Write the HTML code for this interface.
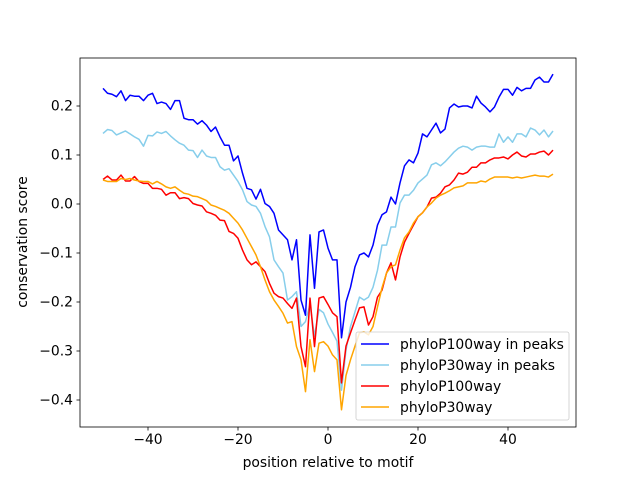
<!DOCTYPE html>
<html><head><meta charset="utf-8"><style>
body{margin:0;background:#fff}
svg{display:block;font-family:"DejaVu Sans","Liberation Sans",sans-serif}
</style></head><body>
<svg id="chart" width="640" height="480" viewBox="0 0 640 480">
<rect width="640" height="480" fill="#fff"/>
<g id="plot"></g>
</svg>
<script>
const positions = [];
for (let i = -50; i <= 50; i++) positions.push(i);
const p100peaks = [.236,.226,.224,.219,.231,.211,.222,.220,.220,.211,.222,.226,.205,.208,.205,.193,.211,.211,.175,.172,.172,.163,.170,.161,.148,.157,.137,.120,.120,.088,.098,.063,.032,.029,.010,.030,.001,-.005,-.019,-.053,-.063,-.073,-.114,-.073,-.196,-.227,-.063,-.172,-.057,-.053,-.09,-.114,-.114,-.273,-.2,-.17,-.128,-.104,-.1,-.108,-.084,-.043,-.022,-.016,.014,0,.043,.078,.09,.084,.104,.143,.137,.151,.165,.145,.153,.196,.204,.198,.2,.2,.196,.22,.206,.198,.188,.198,.218,.234,.234,.222,.238,.231,.236,.236,.253,.259,.249,.249,.265];
const p30peaks = [.144,.152,.150,.141,.145,.149,.143,.137,.132,.118,.140,.139,.147,.144,.148,.139,.131,.124,.120,.110,.109,.095,.110,.098,.095,.095,.076,.069,.072,.059,.046,.029,.005,-.002,-.005,-.019,-.046,-.067,-.114,-.128,-.141,-.196,-.189,-.179,-.25,-.24,-.205,-.27,-.215,-.222,-.245,-.262,-.28,-.38,-.298,-.25,-.22,-.19,-.196,-.19,-.17,-.135,-.084,-.084,-.047,-.047,.002,.018,.018,.028,.043,.051,.059,.08,.084,.078,.086,.096,.106,.114,.118,.116,.11,.116,.118,.118,.116,.116,.143,.126,.137,.126,.143,.143,.137,.155,.151,.141,.151,.137,.149];
const p100 = [.050,.057,.049,.049,.059,.047,.047,.056,.046,.042,.042,.032,.032,.030,.018,.023,.023,.011,.013,.011,.001,-.002,-.004,-.016,-.019,-.023,-.033,-.034,-.056,-.060,-.070,-.094,-.114,-.124,-.118,-.128,-.138,-.162,-.182,-.189,-.192,-.203,-.213,-.192,-.291,-.332,-.192,-.291,-.192,-.189,-.205,-.222,-.23,-.365,-.29,-.263,-.237,-.212,-.21,-.247,-.23,-.19,-.176,-.141,-.12,-.155,-.108,-.078,-.06,-.043,-.026,-.018,-.006,.012,.014,.022,.035,.039,.049,.063,.061,.065,.075,.075,.084,.084,.09,.094,.094,.096,.092,.1,.106,.098,.096,.102,.102,.106,.108,.1,.11];
const p30 = [.049,.046,.046,.046,.052,.050,.052,.049,.047,.046,.046,.041,.046,.041,.035,.032,.035,.028,.022,.020,.016,.015,.011,.007,-.002,-.005,-.009,-.013,-.019,-.029,-.039,-.053,-.070,-.087,-.104,-.128,-.155,-.179,-.196,-.209,-.223,-.243,-.240,-.291,-.318,-.383,-.277,-.342,-.284,-.281,-.29,-.308,-.318,-.42,-.35,-.318,-.29,-.263,-.261,-.267,-.25,-.21,-.171,-.141,-.128,-.124,-.094,-.069,-.057,-.039,-.026,-.018,-.006,.002,.012,.018,.022,.027,.033,.035,.037,.043,.043,.043,.047,.045,.051,.055,.055,.055,.055,.053,.055,.053,.055,.057,.059,.057,.057,.055,.061];
const seriesNames = ["phyloP100way in peaks","phyloP30way in peaks","phyloP100way","phyloP30way"];
const seriesColors = ["#0000ff","#87ceeb","#ff0000","#ffa500"];
const xTicks = [-40,-20,0,20,40];
const yTicks = [0.2,0.1,0.0,-0.1,-0.2,-0.3,-0.4];
const yTickLabels = ["0.2","0.1","0.0","−0.1","−0.2","−0.3","−0.4"];

const NS = "http://www.w3.org/2000/svg";
const L = 80, R = 576, T = 58, B = 427;
const FS = 13.9;
const xs = v => 328 + v * 4.5;
const ys = v => 204 - v * 490;
const plot = document.getElementById('plot');
function mk(tag, attrs, parent) {
  const e = document.createElementNS(NS, tag);
  for (const k in attrs) e.setAttribute(k, attrs[k]);
  (parent || plot).appendChild(e);
  return e;
}
const allSeries = [p100peaks, p30peaks, p100, p30];
allSeries.forEach((s, si) => {
  const d = s.map((v, i) => (i ? 'L' : 'M') + xs(positions[i]).toFixed(2) + ',' + ys(v).toFixed(2)).join('');
  const p = mk('path', {d: d, fill: 'none', stroke: seriesColors[si], 'stroke-width': 1.5, 'stroke-linejoin': 'round'});
  
  
});
const frame = mk('rect', {x: L, y: T, width: R - L, height: B - T, fill: 'none', stroke: '#000', 'stroke-width': 0.8});


xTicks.forEach(v => {
  const x = xs(v);
  const t = mk('line', {x1: x, x2: x, y1: B, y2: B + 3.5, stroke: '#000', 'stroke-width': 0.8});
  
  
  const lb = mk('text', {x: x, y: B + 17, 'text-anchor': 'middle', 'font-size': FS});
  lb.textContent = v < 0 ? '−' + (-v) : String(v);
  
  
});
yTicks.forEach((v, i) => {
  const y = ys(v);
  const t = mk('line', {x1: L - 3.5, x2: L, y1: y, y2: y, stroke: '#000', 'stroke-width': 0.8});
  
  
  const lb = mk('text', {x: L - 7, y: y + 4.5, 'text-anchor': 'end', 'font-size': FS});
  lb.textContent = yTickLabels[i];
  
  
});
const xt = mk('text', {x: 328, y: 467, 'text-anchor': 'middle', 'font-size': FS});
xt.textContent = 'position relative to motif';


const yt = mk('text', {x: 0, y: 0, 'text-anchor': 'middle', 'font-size': FS, transform: 'translate(27,242) rotate(-90)'});
yt.textContent = 'conservation score';


const lg = mk('g', {});


const box = mk('rect', {x: 356, y: 332, width: 213, height: 88, rx: 2, fill: '#fff', 'fill-opacity': 0.8, stroke: '#ccc', 'stroke-width': 0.8}, lg);


seriesNames.forEach((n, i) => {
  const y = 344 + i * 21;
  const ln = mk('line', {x1: 361, x2: 389, y1: y, y2: y, stroke: seriesColors[i], 'stroke-width': 1.5}, lg);
  
  
  const tx = mk('text', {x: 400, y: y + 5, 'font-size': FS}, lg);
  tx.textContent = n;
  
  
});
</script>
</body></html>
